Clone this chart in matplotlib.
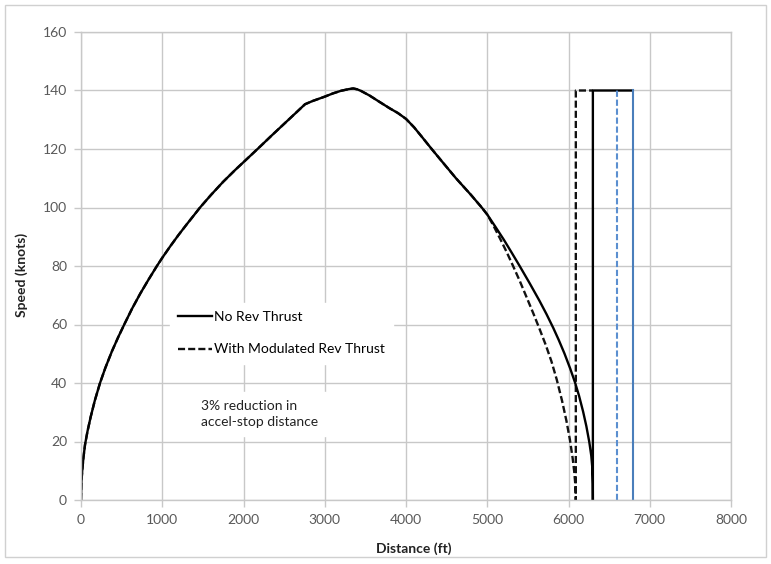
import matplotlib
matplotlib.use("Agg")
import matplotlib.pyplot as plt
from matplotlib.patches import Rectangle

# ---- data ----
# shared acceleration + early braking (distance ft, speed knots)
accel_dist = [0, 5, 15, 30, 50, 80, 120, 170, 234, 300, 380, 460, 541, 630, 730, 830,
              932, 1000, 1100, 1200, 1300, 1400, 1465, 1600, 1750, 1900, 2000, 2100,
              2203, 2350, 2500, 2650, 2757, 2850, 3000, 3100, 3200, 3300, 3350, 3400,
              3450, 3550, 3680, 3800, 3900, 4000, 4100, 4200, 4316, 4450, 4615, 4800,
              4932, 5000]
accel_speed = [0, 6, 10, 14.5, 19, 23.5, 28.5, 34, 40, 45.2, 50.8, 55.8, 60.5, 65.5, 70.6, 75.3,
               79.9, 82.8, 86.8, 90.6, 94.2, 97.7, 100, 104.3, 108.8, 112.9, 115.5, 118.1,
               120.8, 124.7, 128.6, 132.5, 135.3, 136.4, 137.9, 139, 139.9, 140.5, 140.7, 140.4,
               139.8, 138.3, 136.0, 133.9, 132.3, 130.3, 127.4, 124.0, 120, 115.5, 110, 104.3,
               100, 97.6]

# No reverse thrust braking, then bracket to the blue line
norev_dist = [5103, 5206, 5300, 5403, 5520, 5641, 5730, 5813, 5880, 5950, 6020, 6080,
              6130, 6180, 6220, 6256, 6280, 6293, 6299, 6300, 6300, 6790]
norev_speed = [93.3, 88.9, 84.6, 79.8, 74.2, 68.2, 63.5, 58.8, 54.7, 50.1, 45, 40.2,
               35.6, 30.2, 25.2, 19.8, 15.2, 11, 5.5, 0, 140, 140]

# With modulated reverse thrust braking, then bracket to 6300
modrev_dist = [5080, 5157, 5235, 5313, 5400, 5486, 5570, 5649, 5720, 5790, 5855, 5920,
               5975, 6018, 6050, 6070, 6083, 6089, 6090, 6090, 6300]
modrev_speed = [93.6, 89.4, 85, 80.3, 74.9, 69.2, 63.6, 58.1, 53, 47.4, 41.2, 34,
                27, 20.5, 14.5, 9.8, 5.6, 2.2, 0, 140, 140]

# blue reference lines
blue_solid_dist = [6790, 6790]
blue_solid_speed = [140, 0]
blue_dash_dist = [6600, 6600]
blue_dash_speed = [0, 140]

labels = ["No Rev Thrust", "With Modulated Rev Thrust"]
note = "3% reduction in\naccel-stop distance"

x_ticks = [0, 1000, 2000, 3000, 4000, 5000, 6000, 7000, 8000]
y_ticks = [0, 20, 40, 60, 80, 100, 120, 140, 160]

# ---- figure ----
W, H = 771, 564
fig = plt.figure(figsize=(W / 100, H / 100), dpi=100)
FONT = "Lato"
plt.rcParams["font.family"] = [FONT, "DejaVu Sans"]

# outer border
fig.add_artist(Rectangle((5 / W, 1 - 557 / H), 761 / W, 552 / H, transform=fig.transFigure,
                         fill=False, edgecolor="#d0d0d0", lw=1.0))

ax = fig.add_axes([81 / W, 1 - 500 / H, 650 / W, 468 / H])
ax.set_xlim(0, 8000)
ax.set_ylim(0, 160)
ax.set_xticks(x_ticks)
ax.set_yticks(y_ticks)
gridc = "#c8c8c8"
ax.grid(True, color=gridc, lw=1.0)
ax.set_axisbelow(True)
for s in ax.spines.values():
    s.set_color(gridc)
    s.set_linewidth(1.0)
ax.tick_params(axis="both", length=5, width=1.0, color=gridc, labelcolor="#595959",
               labelsize=10)
ax.tick_params(axis="x", pad=5)
ax.tick_params(axis="y", pad=5)

dash = (3, 1.3)
mod_x = accel_dist + modrev_dist
mod_y = accel_speed + modrev_speed
nor_x = accel_dist + norev_dist
nor_y = accel_speed + norev_speed

l2, = ax.plot(mod_x, mod_y, color="#111111", lw=1.7, dashes=dash, label=labels[1],
              solid_joinstyle="round")
l1, = ax.plot(nor_x, nor_y, color="black", lw=1.7, label=labels[0], solid_joinstyle="round")
ax.plot(blue_dash_dist, blue_dash_speed, color="#5b8fd0", lw=1.5, dashes=dash)
ax.plot(blue_solid_dist, blue_solid_speed, color="#4a7ebb", lw=1.5)

leg = ax.legend(handles=[l1, l2], loc="upper left",
                bbox_to_anchor=((170 - 81) / 650, (500 - 303) / 468),
                frameon=True, fancybox=False, framealpha=1, facecolor="white",
                edgecolor="white", fontsize=10, handlelength=2.4, handletextpad=0.15,
                labelspacing=1.45, borderpad=0.6, borderaxespad=0)
for t in leg.get_texts():
    t.set_color("#000000")

ax.text((201 - 81) / 650, (500 - 414) / 468, note, transform=ax.transAxes,
        fontsize=10, color="#222222", ha="left", va="center", linespacing=1.3,
        bbox=dict(boxstyle="square,pad=0.6", facecolor="white", edgecolor="white"))

ax.set_xlabel("Distance (ft)", fontsize=10, fontweight="bold", color="#222222")
ax.set_ylabel("Speed (knots)", fontsize=10, fontweight="bold", color="#222222")
ax.xaxis.set_label_coords((414 - 81) / 650, -(542 - 500) / 468)
ax.yaxis.set_label_coords(-(81 - 28) / 650, (500 - 275) / 468)

fig.savefig("out.png", dpi=100)
